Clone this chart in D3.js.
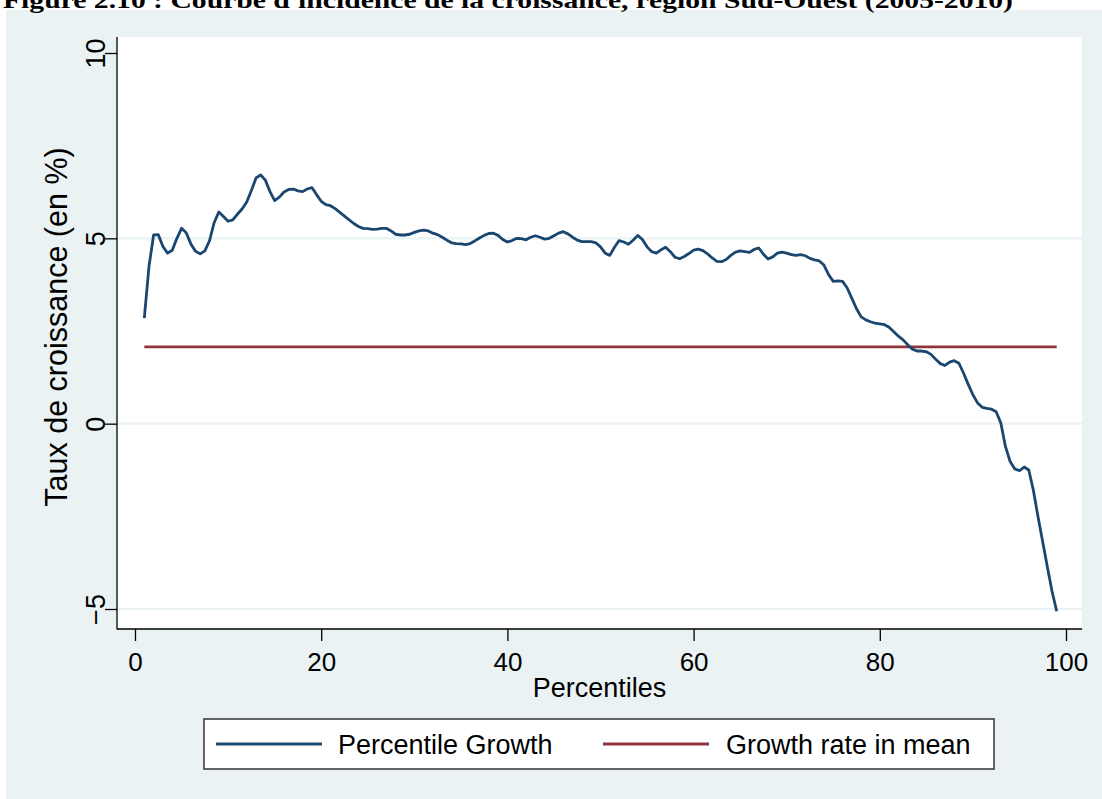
<!DOCTYPE html>
<html><head><meta charset="utf-8">
<script src="https://cdn.jsdelivr.net/npm/d3@7"></script>
<style>
body{margin:0;background:#fff;}
svg{display:block;}
text{font-family:"Liberation Sans",Arial,sans-serif;fill:#000;}
</style></head><body>
<svg id="chart" width="1102" height="799"></svg>
<script>
const title = "Figure 2.10 : Courbe d'incidence de la croissance, région Sud-Ouest (2005-2010)";
const percentiles = [
  1,1.5,2,2.5,3,3.5,4,4.5,5,5.5,
  6,6.5,7,7.5,8,8.5,9,9.5,10,10.5,
  11,11.5,12,12.5,13,13.5,14,14.5,15,15.5,
  16,16.5,17,17.5,18,18.5,19,19.5,20,20.5,
  21,21.5,22,22.5,23,23.5,24,24.5,25,25.5,
  26,26.5,27,27.5,28,28.5,29,29.5,30,30.5,
  31,31.5,32,32.5,33,33.5,34,34.5,35,35.5,
  36,36.5,37,37.5,38,38.5,39,39.5,40,40.5,
  41,41.5,42,42.5,43,43.5,44,44.5,45,45.5,
  46,46.5,47,47.5,48,48.5,49,49.5,50,50.5,
  51,51.5,52,52.5,53,53.5,54,54.5,55,55.5,
  56,56.5,57,57.5,58,58.5,59,59.5,60,60.5,
  61,61.5,62,62.5,63,63.5,64,64.5,65,65.5,
  66,66.5,67,67.5,68,68.5,69,69.5,70,70.5,
  71,71.5,72,72.5,73,73.5,74,74.5,75,75.5,
  76,76.5,77,77.5,78,78.5,79,79.5,80,80.5,
  81,81.5,82,82.5,83,83.5,84,84.5,85,85.5,
  86,86.5,87,87.5,88,88.5,89,89.5,90,90.5,
  91,91.5,92,92.5,93,93.5,94,94.5,95,95.5,
  96,96.5,97,97.5,98,98.5,99
];
const percentileGrowth = [
  2.85,4.24,5.09,5.10,4.78,4.60,4.68,5.00,5.27,5.15,
  4.85,4.65,4.58,4.66,4.93,5.42,5.71,5.59,5.46,5.50,
  5.65,5.79,5.98,6.29,6.63,6.71,6.57,6.26,6.02,6.11,
  6.25,6.32,6.33,6.28,6.26,6.33,6.37,6.18,6.00,5.91,
  5.88,5.80,5.70,5.60,5.50,5.40,5.32,5.27,5.26,5.24,
  5.25,5.27,5.27,5.20,5.11,5.09,5.09,5.11,5.16,5.20,
  5.22,5.20,5.14,5.10,5.03,4.95,4.88,4.86,4.85,4.83,
  4.86,4.93,5.01,5.08,5.13,5.14,5.08,4.97,4.90,4.94,
  5.00,4.99,4.96,5.03,5.07,5.03,4.98,5.00,5.07,5.14,
  5.18,5.12,5.03,4.95,4.91,4.91,4.91,4.88,4.77,4.60,
  4.54,4.76,4.94,4.90,4.84,4.95,5.08,4.97,4.77,4.64,
  4.60,4.69,4.76,4.64,4.49,4.45,4.51,4.59,4.68,4.71,
  4.67,4.58,4.47,4.38,4.37,4.43,4.54,4.63,4.66,4.64,
  4.62,4.70,4.74,4.57,4.44,4.50,4.60,4.63,4.60,4.56,
  4.54,4.56,4.53,4.46,4.42,4.39,4.28,4.02,3.84,3.85,
  3.84,3.66,3.38,3.10,2.88,2.80,2.75,2.71,2.69,2.67,
  2.60,2.48,2.36,2.26,2.13,2.01,1.96,1.96,1.94,1.87,
  1.74,1.62,1.57,1.66,1.70,1.63,1.36,1.06,0.78,0.56,
  0.44,0.41,0.39,0.32,0.02,-0.62,-1.02,-1.22,-1.27,-1.17,
  -1.25,-1.80,-2.52,-3.19,-3.87,-4.52,-5.06
];
const meanPercentiles = [1, 99];
const meanGrowth = [2.07, 2.07];
const xTicks = [0, 20, 40, 60, 80, 100];
const yTicks = [-5, 0, 5, 10];
const yGrid = [-5, 0, 5];
const seriesNames = ["Percentile Growth", "Growth rate in mean"];
const seriesColors = ["#1a476f", "#90353b"];
const xTitle = "Percentiles";
const yTitle = "Taux de croissance (en %)";

const svg = d3.select("#chart");
const plot = {left: 117, right: 1082, top: 37, bottom: 629};
const x = d3.scaleLinear().domain([0, 100]).range([135, 1066]);
const y = d3.scaleLinear().domain([-5, 10]).range([609, 53]);

// background
svg.append("rect").attr("x", 6).attr("y", 10).attr("width", 1096).attr("height", 789).attr("fill", "#eaf2f3");
// title (clipped at top, as in the reference)
svg.append("text").attr("x", 3).attr("y", 8)
  .attr("textLength", 1010).attr("lengthAdjust", "spacingAndGlyphs")
  .style("font-family", "'Liberation Serif','Times New Roman',serif")
  .style("font-weight", "bold").style("font-size", "23px").text(title);

// plot region
svg.append("rect").attr("x", plot.left).attr("y", plot.top)
  .attr("width", plot.right - plot.left).attr("height", plot.bottom - plot.top).attr("fill", "#fff");

// grid
svg.append("g").selectAll("line").data(yGrid).join("line")
  .attr("x1", plot.left).attr("x2", plot.right)
  .attr("y1", d => y(d)).attr("y2", d => y(d))
  .attr("stroke", "#eaf2f3").attr("stroke-width", 2.2);

// lines
const line = d3.line().x(d => x(d[0])).y(d => y(d[1]));
svg.append("path").datum(meanPercentiles.map((p, i) => [p, meanGrowth[i]]))
  .attr("d", line).attr("fill", "none").attr("stroke", seriesColors[1]).attr("stroke-width", 2.8);
svg.append("path").datum(percentiles.map((p, i) => [p, percentileGrowth[i]]))
  .attr("d", line).attr("fill", "none").attr("stroke", seriesColors[0]).attr("stroke-width", 2.8)
  .attr("stroke-linejoin", "round");

// axes
const gx = svg.append("g").attr("transform", `translate(0,${plot.bottom})`)
  .call(d3.axisBottom(x).tickValues(xTicks).tickSize(12).tickPadding(6).tickFormat(d3.format("d")));
gx.select(".domain").remove();
gx.selectAll(".tick line").attr("stroke", "#000").attr("stroke-width", 1.3);
gx.selectAll(".tick text").style("font-size", "26px").attr("dy", null).attr("y", 42);

const gy = svg.append("g").attr("transform", `translate(${plot.left},0)`)
  .call(d3.axisLeft(y).tickValues(yTicks).tickSize(12).tickFormat(d3.format("d")));
gy.select(".domain").remove();
gy.selectAll(".tick line").attr("stroke", "#000").attr("stroke-width", 1.3);
gy.selectAll(".tick text").style("font-size", "27px")
  .attr("x", null).attr("dy", null).attr("text-anchor", "middle")
  .attr("transform", "translate(-12,0) rotate(-90)");

svg.append("line").attr("x1", plot.left).attr("x2", plot.left).attr("y1", plot.top).attr("y2", plot.bottom + 0.5)
  .attr("stroke", "#000").attr("stroke-width", 1.3);
svg.append("line").attr("x1", plot.left).attr("x2", plot.right).attr("y1", plot.bottom).attr("y2", plot.bottom)
  .attr("stroke", "#000").attr("stroke-width", 1.3);

// axis titles
svg.append("text").attr("x", (plot.left + plot.right) / 2).attr("y", 697)
  .attr("text-anchor", "middle").style("font-size", "27px").text(xTitle);
svg.append("text").attr("transform", `translate(67,${(plot.top + plot.bottom) / 2 - 6}) rotate(-90)`)
  .attr("text-anchor", "middle").style("font-size", "30.5px").text(yTitle);

// legend
const lg = svg.append("g");
lg.append("rect").attr("x", 204).attr("y", 719).attr("width", 790).attr("height", 50)
  .attr("fill", "#fff").attr("stroke", "#333").attr("stroke-width", 1.5);
const legendItems = [
  {name: seriesNames[0], color: seriesColors[0], x1: 216, x2: 322, tx: 338},
  {name: seriesNames[1], color: seriesColors[1], x1: 603, x2: 709, tx: 726}
];
legendItems.forEach(it => {
  lg.append("line").attr("x1", it.x1).attr("x2", it.x2).attr("y1", 744).attr("y2", 744)
    .attr("stroke", it.color).attr("stroke-width", 2.8);
  lg.append("text").attr("x", it.tx).attr("y", 754).style("font-size", "27px").text(it.name);
});
</script>
</body></html>
